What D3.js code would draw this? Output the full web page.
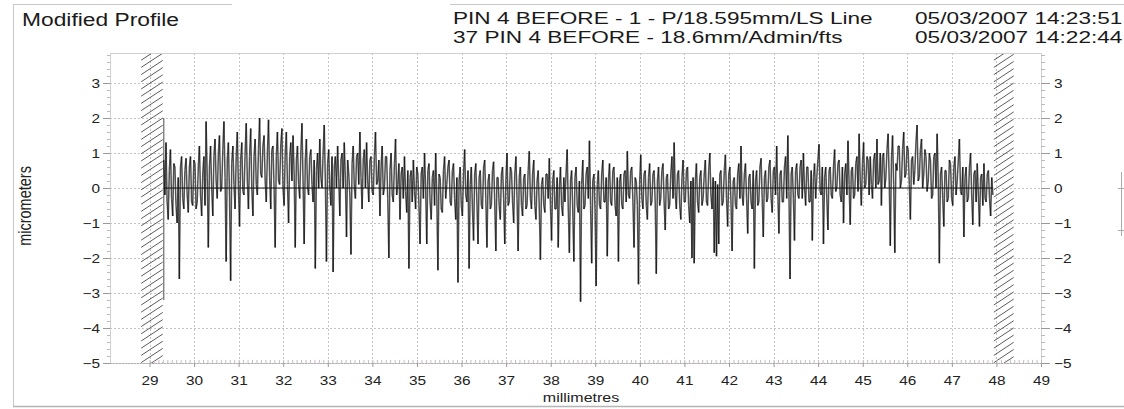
<!DOCTYPE html>
<html><head><meta charset="utf-8">
<script src="https://cdn.jsdelivr.net/npm/d3@7"></script>
<style>
html,body{margin:0;padding:0;background:#fff;}
svg{display:block;font-family:"Liberation Sans",Arial,sans-serif;}
</style></head><body>
<svg id="chart" width="1124" height="409"></svg>
<script>
// Axis ticks
const xTicks = [29,30,31,32,33,34,35,36,37,38,39,40,41,42,43,44,45,46,47,48,49];
const yTicks = [3,2,1,0,-1,-2,-3,-4,-5];

// Header text
const title = "Modified Profile";
const headerNames = ["PIN 4 BEFORE - 1 - P/18.595mm/LS Line", "37 PIN 4 BEFORE - 18.6mm/Admin/fts"];
const headerStamps = ["05/03/2007 14:23:51", "05/03/2007 14:22:44"];

// Excluded zones at both ends of the trace (mm)
const hatchZones = [[28.79, 29.32], [47.92, 48.41]];
const startEdge = [2.0, -3.2];

// Profile heights (micrometres), sampled every 0.025 mm from 29.32 mm, one array per millimetre
const profileStart = 29.32;
const profileStep = 0.025;
const p29 = [0.8,-0.2,1.3,-0.4,-0.9,0.5,1.1,-0.3,-0.8,0.7,0.6,-0.5,-1.0,0.3,-2.6,0.6,0.9,-0.3,-0.6,0.5,
             0.85,-0.2,-0.7,0.6,0.9,-0.4,-0.5,0.8,0.7,-0.6,-0.4,0.6,1.2,-0.2,-0.8,0.4,0.9,-0.5,1.9,0.3];
const p30 = [-1.7,0.6,1.2,0.0,-0.8,0.9,1.4,0.2,-0.3,1.0,1.5,-0.1,0.0,1.1,1.9,0.3,-2.1,0.8,1.3,-0.2,
             -2.65,0.7,1.2,0.1,-0.6,0.9,1.6,0.0,-1.1,0.8,1.3,-0.1,-0.2,1.0,1.85,0.2,-0.6,0.9,1.7,0.0];
const p31 = [-0.8,0.9,1.4,0.1,-0.2,1.1,2.0,0.4,0.3,1.2,1.5,0.2,-0.4,1.0,1.95,0.3,-0.6,1.1,1.2,0.0,
             -1.7,0.9,1.6,0.2,0.1,1.2,1.7,0.0,-0.5,1.0,1.6,0.1,-1.0,0.9,1.3,0.2,1.5,0.4,-1.7,0.8];
const p32 = [1.2,0.1,-0.3,1.0,1.85,0.2,-1.6,0.8,1.4,0.0,-0.2,0.9,1.1,0.1,-0.4,0.8,-2.3,0.5,1.0,0.0,
             1.4,0.3,0.0,1.0,1.8,0.2,-2.1,0.7,1.1,0.0,-0.5,0.9,-2.4,0.6,0.9,0.0,1.2,0.3,-0.8,0.8];
const p33 = [1.0,0.0,1.3,0.2,-1.4,0.8,0.4,-0.2,-1.9,0.7,1.2,0.0,-0.3,0.9,1.0,0.1,1.6,0.3,-0.6,0.8,
             1.1,0.0,1.3,0.2,-0.4,0.8,0.9,-0.1,-0.2,0.9,1.6,0.1,0.2,0.8,-0.8,0.6,1.2,-0.2,0.0,0.9];
const p34 = [0.9,-0.3,-2.0,0.5,1.0,-0.2,-0.4,0.7,1.4,-0.2,0.1,0.7,-0.9,0.4,0.6,-0.3,0.9,-0.1,-0.7,0.5,
             -2.3,0.3,0.5,-0.4,0.8,-0.1,-0.6,0.6,0.4,-0.5,-1.6,0.4,0.6,-0.3,1.0,0.0,-1.6,0.5,0.7,-0.4];
const p35 = [-0.9,0.3,0.5,-0.5,1.0,-0.2,-2.35,0.4,0.3,-0.6,-0.7,0.5,0.9,-0.3,0.1,0.6,0.8,-0.4,-0.5,0.5,
             0.7,-0.3,-0.9,0.3,-2.7,0.2,0.6,-0.5,-0.8,0.4,1.1,-0.2,-0.4,0.5,-2.3,0.1,0.6,-0.6,-1.5,0.4];
const p36 = [0.7,-0.4,-1.6,0.3,0.5,-0.5,-0.6,0.6,0.8,-0.3,-1.7,0.2,0.4,-0.6,-0.5,0.5,0.75,-0.4,-1.8,0.3,
             0.3,-0.5,-0.9,0.4,0.6,-0.3,-1.6,0.2,1.0,-0.5,-0.4,0.6,0.5,-0.4,-1.0,0.4,0.9,-0.3,-1.8,0.3];
const p37 = [0.6,-0.5,-0.8,0.3,0.4,-0.6,-0.5,0.5,1.05,-0.3,-0.6,0.4,0.8,-0.5,-0.9,0.2,0.5,-0.6,-2.05,0.1,
             0.3,-0.5,-0.7,0.4,0.4,-0.3,0.85,-0.5,-1.5,0.2,0.5,-0.6,-0.6,0.3,-1.7,0.0,0.6,-0.5,-0.8,0.3];
const p38 = [-0.4,0.4,1.1,-0.6,-1.85,0.2,0.5,-0.6,-2.1,0.3,0.6,-0.5,-0.7,0.2,-3.25,0.1,0.8,-0.6,-0.5,0.4,
             0.6,-0.3,1.35,-0.5,-2.15,0.2,0.4,-0.6,-2.8,0.1,0.5,-0.5,-0.6,0.4,0.8,-0.4,-0.4,0.3,-1.95,0.2];
const p39 = [0.7,-0.4,-0.5,0.5,0.6,-0.5,-0.8,0.3,-2.1,0.2,0.4,-0.5,-0.6,0.4,0.5,-0.4,1.05,-0.2,-0.3,0.5,
             0.6,-0.4,-1.7,0.3,0.2,-0.5,-2.75,0.1,0.95,-0.3,-0.6,0.4,0.5,-0.5,-0.9,0.3,0.7,-0.5,-0.4,0.4];
const p40 = [0.5,-0.4,-2.45,0.2,0.6,-0.5,-0.3,0.5,0.7,-0.4,-1.2,0.3,0.4,-0.6,-0.5,0.4,0.9,-0.3,1.3,-0.2,
             -0.6,0.4,0.5,-0.5,-0.9,0.3,0.8,-0.4,-0.4,0.5,0.6,-0.5,-1.0,0.2,-2.0,0.3,-2.15,0.2,0.7,-0.4];
const p41 = [-0.7,0.3,0.5,-0.5,-0.3,0.4,0.8,-0.4,-0.5,0.5,1.0,-0.2,-0.6,0.3,-1.85,0.2,-1.95,0.1,-1.6,0.4,
             0.5,-0.5,-0.4,0.5,0.95,-0.3,-1.1,0.4,0.6,-0.4,-1.8,0.2,0.3,-0.5,-0.6,0.4,0.7,-0.3,1.2,-0.2];
const p42 = [-0.5,0.4,0.7,-0.3,-1.3,0.3,0.4,-0.4,-0.6,0.5,-2.3,0.2,0.5,-0.5,-0.4,0.6,0.85,-0.3,-1.4,0.3,
             0.5,-0.4,-0.3,0.6,0.8,-0.3,-0.7,0.5,0.6,-0.2,1.2,-0.1,-1.3,0.4,0.5,-0.4,-0.4,0.6,0.9,-0.3];
const p43 = [1.5,-0.1,-2.6,0.4,0.6,-0.3,-1.5,0.5,0.7,-0.2,-0.3,0.6,0.8,-0.3,1.0,0.0,-0.5,0.6,0.6,-0.4,
             -0.4,0.5,-1.5,0.3,0.7,-0.3,0.3,0.8,1.25,-0.1,-0.2,0.6,-1.6,0.3,0.6,-0.3,-1.2,0.5,0.6,-0.2];
const p44 = [-0.3,0.6,1.1,-0.1,0.0,0.7,0.8,-0.2,-0.4,0.6,-1.0,0.4,0.7,-0.2,1.35,0.1,-1.05,0.5,0.6,-0.3,
             -0.2,0.7,0.9,-0.1,1.55,0.2,-0.5,0.7,1.3,0.0,0.1,0.9,0.8,-0.2,0.9,0.1,-0.3,0.8,1.0,0.0];
const p45 = [1.4,0.1,0.2,1.0,-0.5,0.9,1.0,0.0,0.3,1.1,1.55,0.2,-1.65,0.8,1.5,0.1,-1.85,0.7,0.5,1.2,
             1.2,0.0,0.2,1.1,1.6,0.3,0.4,1.2,1.1,0.1,-0.9,0.8,0.9,0.1,0.5,1.3,1.8,0.2,0.3,1.1];
const p46 = [1.4,0.0,0.4,1.1,0.9,-0.1,0.2,1.0,0.8,-0.3,-0.2,0.9,1.0,0.0,1.55,0.2,-2.15,0.4,0.6,-0.3,
             -1.1,0.5,0.5,-0.4,-0.3,0.8,0.7,-0.3,-0.5,0.6,0.9,-0.2,0.2,0.8,1.4,-0.1,-0.2,0.6,-1.4,0.3];
const p47 = [0.6,-0.4,-0.3,0.6,1.0,-0.2,-1.05,0.4,0.5,-0.4,0.7,-0.2,-1.1,0.3,0.4,-0.5,0.7,-0.3,-0.4,0.4,
             0.5,-0.3,-0.8,0.3,-0.2];
const profile = [].concat(p29,p30,p31,p32,p33,p34,p35,p36,p37,p38,p39,p40,p41,p42,p43,p44,p45,p46,p47);

const SX = 1.23;   // horizontal stretch of axis text
const SXH = 1.33;  // horizontal stretch of header text
const svg = d3.select("#chart");
const plot = {left:110, right:1041, top:53, bottom:363};

const x = d3.scaleLinear().domain([29,49]).range([149.5,1041]);
const y = d3.scaleLinear().domain([-5,3]).range([363,83]);

// page frame
const frame = svg.append("g").attr("stroke","#c8c8c8").attr("stroke-width",1).attr("fill","none");
frame.append("line").attr("x1",13.5).attr("x2",13.5).attr("y1",4).attr("y2",407);
frame.append("line").attr("x1",13).attr("x2",232).attr("y1",4.5).attr("y2",4.5);
frame.append("line").attr("x1",450).attr("x2",1124).attr("y1",4.5).attr("y2",4.5);
frame.append("line").attr("x1",13).attr("x2",1124).attr("y1",406.5).attr("y2",406.5).attr("stroke","#b5b5b5").attr("stroke-width",1.5);

// titles
function stretchedText(g, str, tx, ty, size, sx){
  return g.append("text").attr("transform",`translate(${tx},${ty}) scale(${sx},1)`)
    .attr("font-size",size).attr("fill","#1a1a1a").text(str);
}
stretchedText(svg, title, 22, 26, 19, 1.2);
headerNames.forEach((t,i)=>stretchedText(svg, t, 453, 24+i*19, 17, SXH));
headerStamps.forEach((t,i)=>stretchedText(svg, t, 915, 24+i*19, 17, SXH));

// plot border
svg.append("rect").attr("x",plot.left+0.5).attr("y",plot.top+0.5)
  .attr("width",plot.right-plot.left).attr("height",plot.bottom-plot.top)
  .attr("fill","none").attr("stroke","#d0d0d0");

// grid
const grid = svg.append("g").attr("stroke","#c4c4c4").attr("stroke-dasharray","2,2").attr("stroke-width",1);
grid.selectAll("line.v").data(xTicks.filter(d=>d<49)).join("line")
  .attr("x1",d=>Math.round(x(d))+0.5).attr("x2",d=>Math.round(x(d))+0.5)
  .attr("y1",plot.top).attr("y2",plot.bottom);
grid.selectAll("line.h").data(yTicks.filter(d=>d>-5)).join("line")
  .attr("x1",plot.left).attr("x2",plot.right)
  .attr("y1",d=>Math.round(y(d))+0.5).attr("y2",d=>Math.round(y(d))+0.5);

// hatched zones
const defs = svg.append("defs");
hatchZones.forEach((z,k)=>{
  const x0 = x(z[0]), x1 = x(z[1]);
  defs.append("clipPath").attr("id","hz"+k).append("rect")
    .attr("x",x0).attr("y",plot.top+1).attr("width",x1-x0).attr("height",plot.bottom-plot.top-1);
  const g = svg.append("g").attr("clip-path",`url(#hz${k})`).attr("stroke","#4a4a4a").attr("stroke-width",0.9);
  const rise = (x1-x0)*0.6;
  const rows = d3.range(plot.top-rise, plot.bottom+rise, 7.2);
  g.selectAll("line").data(rows).join("line")
    .attr("x1",x0+1).attr("y1",d=>d+rise).attr("x2",x1-1).attr("y2",d=>d);
});

// edge of the evaluated length
svg.append("line").attr("x1",x(profileStart)).attr("x2",x(profileStart))
  .attr("y1",y(startEdge[0])).attr("y2",y(startEdge[1])).attr("stroke","#6a6a6a").attr("stroke-width",1.2);

// zero reference
svg.append("line").attr("x1",x(profileStart)).attr("x2",x(profileStart+profileStep*(profile.length-1)))
  .attr("y1",y(0)).attr("y2",y(0)).attr("stroke","#111").attr("stroke-width",1);

// profile trace, drawn as translucent segments so overlapping strokes build up a dark core
const px = i => x(profileStart + i*profileStep);
const segs = d3.pairs(profile.map((v,i)=>[px(i), y(v)]));
svg.append("g").attr("stroke","#0c0c0c").attr("stroke-width",1.5).attr("stroke-opacity",0.72)
  .attr("stroke-linecap","butt")
  .selectAll("line").data(segs).join("line")
  .attr("x1",d=>d[0][0]).attr("y1",d=>d[0][1]).attr("x2",d=>d[1][0]).attr("y2",d=>d[1][1]);

// axes
const minorY = d3.range(-5,3.81,0.2).map(v=>+v.toFixed(1));
const minorX = d3.range(29,49.001,0.1).map(v=>+v.toFixed(1));

function styleAxis(g){
  g.select(".domain").remove();
  g.selectAll(".tick line").attr("stroke","#9a9a9a");
  g.selectAll("text").attr("font-size",12.5).attr("fill","#222").attr("font-family","Liberation Sans, Arial, sans-serif");
}
// left
svg.append("g").attr("transform",`translate(${plot.left},0)`)
  .call(d3.axisLeft(y).tickValues(minorY).tickSize(3).tickFormat(""))
  .call(g=>{g.select(".domain").remove(); g.selectAll(".tick line").attr("stroke","#bbb");});
svg.append("g").attr("transform",`translate(${plot.left},0)`)
  .call(d3.axisLeft(y).tickValues(yTicks).tickSize(7).tickPadding(3))
  .call(styleAxis)
  .call(g=>g.selectAll("text").attr("x",-10/SX).attr("transform",`scale(${SX},1)`));
// right
svg.append("g").attr("transform",`translate(${plot.right},0)`)
  .call(d3.axisRight(y).tickValues(minorY).tickSize(4).tickFormat(""))
  .call(g=>{g.select(".domain").remove(); g.selectAll(".tick line").attr("stroke","#bbb");});
svg.append("g").attr("transform",`translate(${plot.right},0)`)
  .call(d3.axisRight(y).tickValues(yTicks).tickSize(9).tickPadding(4))
  .call(styleAxis)
  .call(g=>g.selectAll("text").attr("x",13/SX).attr("transform",`scale(${SX},1)`));
// bottom
svg.append("line").attr("x1",plot.left).attr("x2",plot.right).attr("y1",plot.bottom+0.5).attr("y2",plot.bottom+0.5)
  .attr("stroke","#b0b0b0").attr("stroke-dasharray","2,1");
svg.append("g").attr("transform",`translate(0,${plot.bottom})`)
  .call(d3.axisBottom(x).tickValues(minorX).tickSize(-3).tickFormat(""))
  .call(g=>{g.select(".domain").remove(); g.selectAll(".tick line").attr("stroke","#c9b9c9");});
svg.append("g").attr("transform",`translate(0,${plot.bottom})`)
  .call(d3.axisBottom(x).tickValues(xTicks).tickSize(4).tickFormat(d3.format("d")))
  .call(styleAxis)
  .call(g=>g.selectAll("text").attr("y",13).attr("dy","0.71em").attr("transform",`scale(${SX},1)`));

// axis titles
svg.append("text").attr("transform",`translate(31,206) scale(${SX},1) rotate(-90)`)
  .attr("text-anchor","middle").attr("font-size",14.5).attr("fill","#222").text("micrometers");
svg.append("text").attr("transform",`translate(581,402) scale(${SX},1)`)
  .attr("text-anchor","middle").attr("font-size",13).attr("fill","#222").text("millimetres");

// clipped edge of a neighbouring axis
const stub = svg.append("g").attr("stroke","#aaa");
stub.append("line").attr("x1",1121.5).attr("x2",1121.5).attr("y1",172).attr("y2",236);
stub.append("line").attr("x1",1118).attr("x2",1124).attr("y1",y(0)+0.5).attr("y2",y(0)+0.5);
stub.append("line").attr("x1",1118).attr("x2",1124).attr("y1",y(-1.2)+0.5).attr("y2",y(-1.2)+0.5);
</script></body></html>
